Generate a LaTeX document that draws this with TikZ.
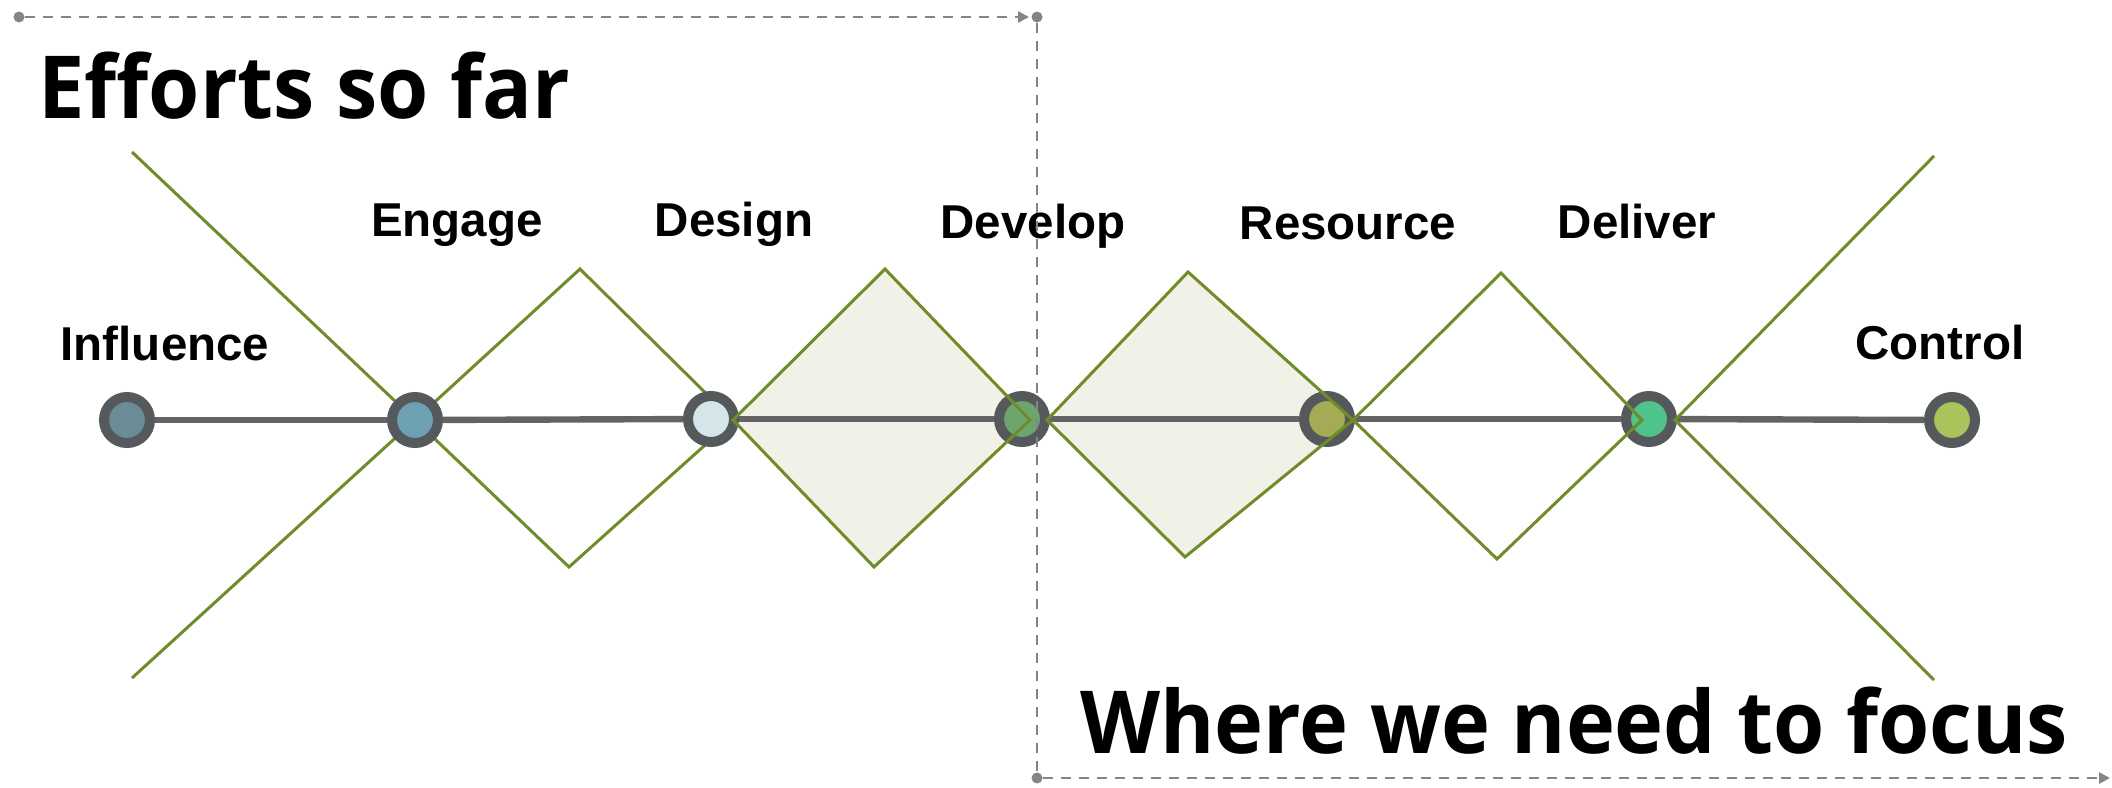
\documentclass[tikz,border=0pt]{standalone}
\usepackage{fontspec}
\setmainfont{Liberation Sans}
\newfontfamily\titlefont{Open Sans}[FakeStretch=0.952]
\usetikzlibrary{arrows.meta}
\definecolor{ringgray}{HTML}{55595C}
\definecolor{linegray}{HTML}{636363}
\definecolor{dashgray}{HTML}{858585}
\definecolor{olivegreen}{HTML}{708C28}
\definecolor{diafill}{HTML}{F1F1E8}
\definecolor{cInfl}{HTML}{6B8C96}
\definecolor{cEng}{HTML}{6EA0B4}
\definecolor{cDes}{HTML}{D4E6EA}
\definecolor{cDev}{HTML}{6EA56E}
\definecolor{cRes}{HTML}{A5AA55}
\definecolor{cDel}{HTML}{50C38C}
\definecolor{cCtl}{HTML}{AAC35A}
\tikzset{
  stage/.style={circle, draw=ringgray, line width=5pt, minimum size=23pt, inner sep=0pt},
  lbl/.style={font=\fontsize{23.75}{28}\selectfont\bfseries, anchor=base, inner sep=0pt},
  bigtitle/.style={font=\titlefont\fontsize{43.5}{50}\selectfont\bfseries, anchor=base west, inner sep=0pt},
  gline/.style={draw=olivegreen, line width=1.5pt, line join=miter},
  hline/.style={draw=linegray, line width=3.2pt},
  dashconn/.style={draw=dashgray, line width=1.3pt, dash pattern=on 5pt off 4pt},
  enddot/.style={circle, fill=dashgray, minimum size=5.5pt, inner sep=0pt},
  tip/.style={-{Triangle[length=5.5pt,width=5.5pt]}}
}
\begin{document}
\begin{tikzpicture}[x=0.5pt,y=-0.5pt]
\useasboundingbox (0,0) rectangle (2112,787);
% diamond geometry
\coordinate (xtl) at (132,152);
\coordinate (xbl) at (132,678);
\coordinate (xl) at (415,420);
\coordinate (d1t) at (580,269);
\coordinate (d1b) at (569,567);
\coordinate (d2l) at (733,420);
\coordinate (d2t) at (885,269);
\coordinate (d2r) at (1030,420);
\coordinate (d2b) at (874,567);
\coordinate (d3l) at (1047,420);
\coordinate (d3t) at (1188,272);
\coordinate (d3r) at (1353,420);
\coordinate (d3b) at (1185,557);
\coordinate (d4t) at (1501,273);
\coordinate (d4r) at (1642,420);
\coordinate (d4b) at (1497,559);
\coordinate (xr) at (1675,420);
\coordinate (xtr) at (1934,156);
\coordinate (xbr) at (1934,680);
% shaded diamonds
\fill[diafill] (d2l) -- (d2t) -- (d2r) -- (d2b) -- cycle;
\fill[diafill] (d3l) -- (d3t) -- (d3r) -- (d3b) -- cycle;
% lines under the stages
\draw[gline] (xtl) -- (xl) -- (d1b) -- (d2l);
\draw[gline] (xbl) -- (xl) -- (d1t) -- (d2l);
% stages
\node[stage, fill=cInfl] (infl) at (127,420) {};
\node[stage, fill=cEng] (eng) at (415,420) {};
\node[stage, fill=cDes] (des) at (711,419) {};
\node[stage, fill=cDev] (dev) at (1022,419) {};
\node[stage, fill=cRes] (res) at (1327,419) {};
\node[stage, fill=cDel] (del) at (1649,419) {};
\node[stage, fill=cCtl] (ctl) at (1952,420) {};
\draw[hline] (infl) -- (eng);
\draw[hline] (eng) -- (des);
\draw[hline] (des) -- (dev);
\draw[hline] (dev) -- (res);
\draw[hline] (res) -- (del);
\draw[hline] (del) -- (ctl);
% lines over the stages
\draw[gline] (d2l) -- (d2t) -- (d2r) -- (d2b) -- cycle;
\draw[gline] (d3l) -- (d3t) -- (d3r) -- (d3b) -- cycle;
\draw[gline] (d3r) -- (d4t) -- (d4r) -- (d4b) -- cycle;
\draw[gline] (xtr) -- (xr) -- (xbr);
% labels
\node[lbl] (linfl) at (165,360) {Influence};
\node[lbl] (leng) at (457,236) {Engage};
\node[lbl] (ldes) at (734,236) {Design};
\node[lbl] (ldev) at (1033,238) {Develop};
\node[lbl] (lres) at (1348,239) {Resource};
\node[lbl] (ldel) at (1637,238) {Deliver};
\node[lbl] (lctl) at (1940,359) {Control};
% dashed frame
\node[enddot] (p1) at (19,17) {};
\node[enddot] (p2) at (1037,17) {};
\node[enddot] (p3) at (1037,778) {};
\coordinate (a1) at (1029,17);
\coordinate (a2) at (2110,778);
\draw[dashconn, tip] (p1) -- (a1);
\draw[dashconn] (p2) -- (p3);
\draw[dashconn, tip] (p3) -- (a2);
% titles
\node[bigtitle] (t1) at (38,118) {Efforts so far};
\node[bigtitle] (t2) at (1080,753) {Where we need to focus};
\end{tikzpicture}
\end{document}
